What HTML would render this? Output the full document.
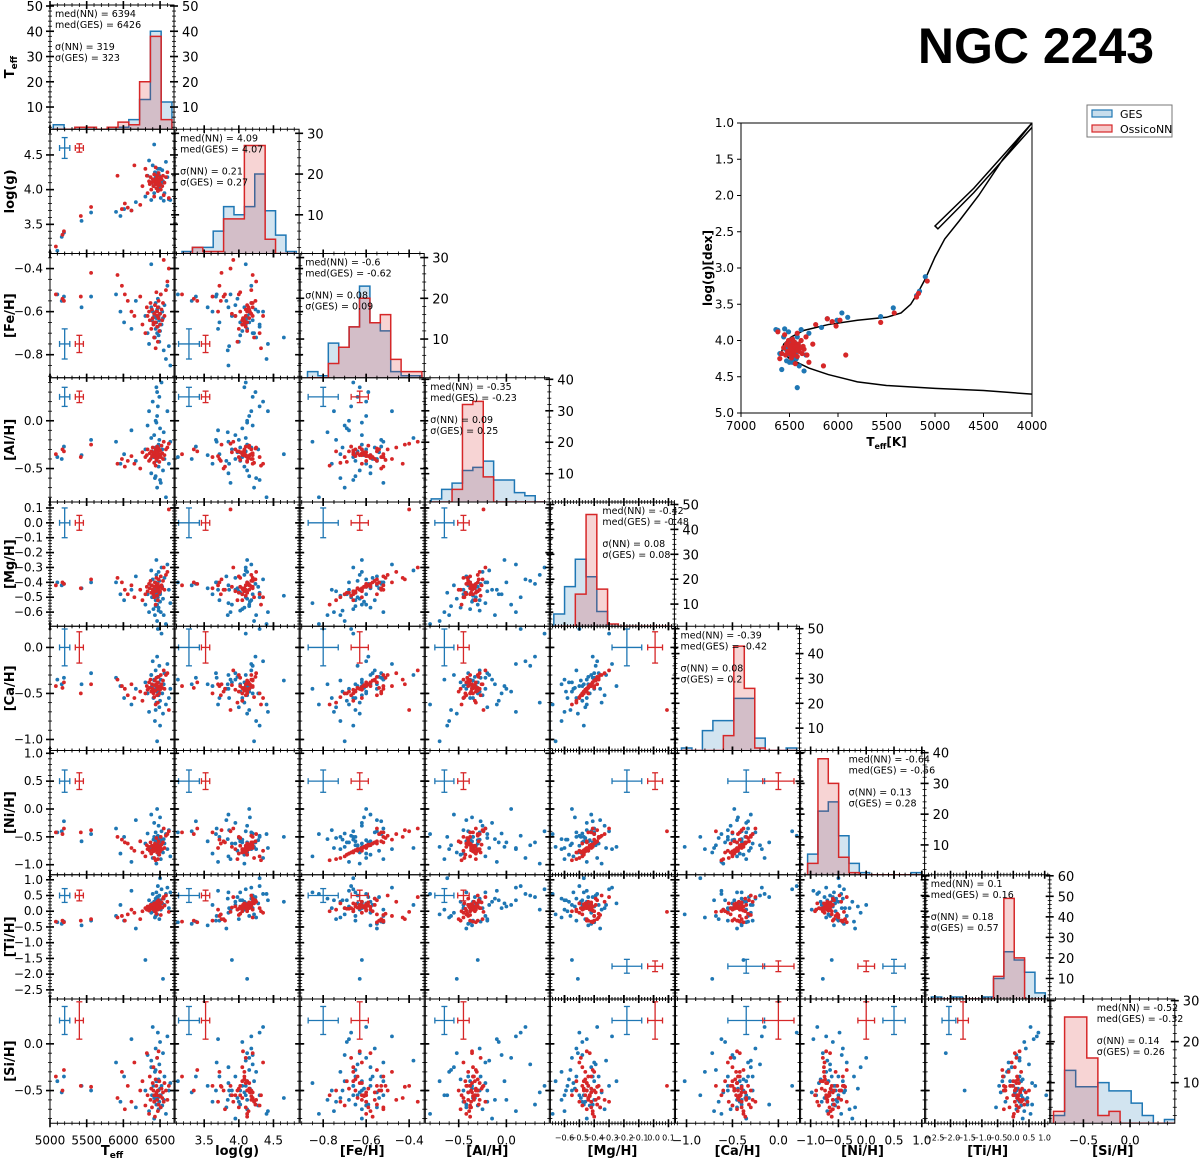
<!DOCTYPE html>
<html><head><meta charset="utf-8"><style>
html,body{margin:0;padding:0;background:#fff;}
svg{display:block;font-family:"DejaVu Sans","Liberation Sans",sans-serif;}
</style></head><body>
<svg id="fig" xmlns="http://www.w3.org/2000/svg" width="1200" height="1162" viewBox="0 0 1200 1162">
<text x="1036" y="63" text-anchor="middle" font-size="50" font-weight="bold" font-family="Liberation Sans, sans-serif">NGC 2243</text>
</svg>
<script>
// ---------- axis limits / labels ----------
const paramNames = ['Teff','log(g)','[Fe/H]','[Al/H]','[Mg/H]','[Ca/H]','[Ni/H]','[Ti/H]','[Si/H]'];
const pMin = [5000,3.08,-0.907,-0.85,-0.695,-1.12,-1.18,-2.79,-0.85];
const pMax = [6690,4.87,-0.33,0.45,0.14,0.23,1.05,1.16,0.48];
const majorStep = [500,0.5,0.2,0.5,0.1,0.5,0.5,0.5,0.5];
const minorStep = [100,0.1,0.05,0.1,0.02,0.1,0.1,0.1,0.1];
const tickDecimals = [0,1,1,1,1,1,1,1,1];
const xTickFont = [12,12,12,12,8,12,12,8,12];

// ---------- GES stars ----------
const gesTeff = [5100,5160,5190,5430,5560,5900,5960,6010,6110,6170,6300,6330,6350,6380,6390,6400,6410,6420,6430,6440,6440,6450,6450,6460,6460,6470,6470,6480,6480,6490,6490,6500,6500,6510,6520,6530,6540,6550,6560,6580,6600,6620,6640,6420,6440,6460,6380,6480,6500,6450];
const gesLogg = [3.12,3.32,3.38,3.55,3.67,3.68,3.62,3.72,3.70,3.82,3.90,4.20,4.42,3.85,4.10,4.35,4.05,3.95,4.25,4.12,4.18,4.08,4.02,4.15,4.22,3.98,4.30,4.12,4.08,4.00,4.20,4.16,4.05,3.88,4.10,4.28,4.12,3.84,3.95,4.40,4.18,3.86,3.85,4.65,4.15,4.24,4.10,4.02,4.30,4.12];
const gesFe = [-0.52,-0.55,-0.53,-0.58,-0.53,-0.52,-0.60,-0.65,-0.68,-0.55,-0.62,-0.70,-0.75,-0.58,-0.64,-0.60,-0.66,-0.62,-0.72,-0.68,-0.56,-0.63,-0.65,-0.60,-0.70,-0.54,-0.67,-0.62,-0.58,-0.74,-0.64,-0.61,-0.69,-0.52,-0.66,-0.60,-0.63,-0.78,-0.57,-0.82,-0.48,-0.76,-0.85,-0.72,-0.65,-0.59,-0.38,-0.71,-0.66,-0.62];
const gesAl = [-0.38,-0.40,-0.27,-0.36,-0.20,-0.22,-0.45,-0.35,-0.10,-0.42,-0.30,-0.05,0.10,-0.55,-0.32,0.20,-0.38,-0.15,-0.60,0.00,-0.28,0.35,-0.42,0.05,-0.70,-0.33,0.15,-0.25,-0.48,-0.20,0.25,-0.36,-0.08,-0.65,0.40,-0.30,-0.52,-0.12,-0.40,-0.80,0.10,-0.45,-0.22,-0.35,-0.58,0.30,-0.18,-0.28,-0.62,-0.02];
const gesMg = [-0.40,-0.42,-0.41,-0.44,-0.40,-0.40,-0.48,-0.52,-0.45,-0.36,-0.55,-0.48,-0.60,-0.42,-0.50,-0.38,-0.58,-0.45,-0.62,-0.40,-0.52,-0.35,-0.47,-0.55,-0.66,-0.44,-0.50,-0.33,-0.57,-0.46,-0.39,-0.53,-0.48,-0.60,-0.30,-0.43,-0.51,-0.62,-0.37,-0.68,-0.28,-0.45,-0.54,-0.49,-0.56,-0.41,-0.32,-0.59,-0.47,-0.25];
const gesCa = [-0.35,-0.40,-0.33,-0.40,-0.28,-0.33,-0.42,-0.55,-0.62,-0.45,-0.38,-0.50,-0.70,-0.30,-0.42,-0.15,-0.55,-0.35,-0.80,-0.45,-0.25,-0.60,-0.40,-0.48,-1.02,-0.32,0.20,-0.52,-0.38,-0.65,-0.20,-0.44,-0.58,-0.35,0.15,-0.50,-0.72,-0.40,-0.28,-0.62,-0.18,-0.55,-0.45,-0.36,-0.68,-0.10,-0.30,-0.48,-0.85,-0.42];
const gesNi = [-0.42,-0.40,-0.22,-0.58,-0.45,-0.35,-0.80,-0.50,-0.95,-0.20,-0.62,-0.44,-0.70,-0.10,-0.66,-0.88,-0.55,-0.25,-0.72,-0.60,-0.42,-0.98,-0.58,0.00,-0.68,-0.75,-0.48,-0.30,-0.82,-0.52,-0.65,-0.15,-0.60,-0.90,-0.40,-0.56,-0.78,-0.54,-0.62,-0.45,-0.72,-0.38,-0.85,-0.50,-0.65,-0.60,-0.70,-0.55,-0.50,-0.68];
const gesTi = [-0.35,-0.40,-0.33,-0.45,-0.30,-0.15,0.20,-0.30,0.65,-0.55,-1.55,0.10,0.35,-0.05,0.25,0.55,0.00,0.30,-0.20,0.15,0.40,0.05,0.60,0.20,-0.10,0.45,0.80,0.10,0.30,-0.25,0.50,0.15,0.35,0.05,0.70,0.25,-2.15,0.40,0.20,0.55,0.75,0.10,0.60,0.30,-0.15,0.45,0.20,0.35,1.05,0.25];
const gesSi = [-0.40,-0.52,-0.35,-0.45,-0.50,-0.20,-0.62,-0.35,0.05,-0.68,-0.50,-0.12,-0.72,-0.25,-0.55,0.18,-0.45,-0.80,-0.30,-0.60,-0.05,-0.52,-0.65,-0.15,-0.40,-0.58,0.12,-0.70,-0.38,-0.62,-0.22,-0.48,0.02,-0.55,-0.45,-0.66,-0.10,-0.60,-0.35,-0.75,0.08,-0.50,-0.42,-0.58,-0.28,-0.65,-0.18,-0.50,-0.55,-0.40];

// ---------- OssicoNN stars ----------
const nnTeff = [5080,5170,5190,5420,5560,5920,5980,6020,6060,6110,6150,6230,6260,6300,6320,6330,6350,6360,6370,6380,6390,6400,6410,6420,6420,6430,6440,6450,6450,6460,6460,6470,6470,6480,6480,6490,6500,6500,6510,6520,6530,6540,6550,6560,6580,6600,6620,6440,6460,6410];
const nnLogg = [3.18,3.35,3.40,3.62,3.75,4.20,3.72,3.80,3.74,3.70,4.35,3.78,4.05,4.30,4.20,3.95,4.12,4.08,4.18,4.00,4.10,4.15,4.05,4.22,3.90,4.12,4.08,4.16,4.02,4.10,4.20,4.14,3.98,4.06,4.24,4.12,4.18,4.08,4.00,4.15,4.05,4.20,3.92,4.10,4.18,4.25,3.88,4.32,4.02,4.12];
const nnFe = [-0.52,-0.54,-0.55,-0.53,-0.42,-0.43,-0.48,-0.52,-0.55,-0.60,-0.62,-0.53,-0.66,-0.70,-0.58,-0.62,-0.60,-0.64,-0.56,-0.68,-0.59,-0.63,-0.66,-0.72,-0.61,-0.57,-0.65,-0.60,-0.51,-0.67,-0.62,-0.58,-0.74,-0.63,-0.55,-0.69,-0.61,-0.66,-0.52,-0.59,-0.64,-0.56,-0.36,-0.62,-0.50,-0.46,-0.40,-0.77,-0.60,-0.65];
const nnAl = [-0.35,-0.30,-0.32,-0.38,-0.25,-0.45,-0.40,-0.48,-0.42,-0.37,-0.45,-0.50,-0.33,-0.38,-0.36,-0.30,-0.42,-0.34,-0.40,-0.32,-0.37,-0.28,-0.35,-0.44,-0.33,-0.38,-0.30,-0.36,-0.41,-0.27,-0.34,-0.39,-0.32,-0.36,-0.29,-0.43,-0.35,-0.31,-0.38,-0.26,-0.34,-0.40,-0.22,-0.36,-0.30,-0.28,-0.24,-0.47,-0.33,-0.37];
const nnMg = [-0.42,-0.40,-0.41,-0.44,-0.38,-0.37,-0.40,-0.45,-0.48,-0.42,-0.50,-0.45,-0.52,-0.48,-0.43,-0.46,-0.41,-0.44,-0.39,-0.47,-0.42,-0.45,-0.48,-0.50,-0.43,-0.40,-0.46,-0.42,-0.37,-0.49,-0.44,-0.41,-0.52,-0.45,-0.38,-0.47,-0.43,-0.46,-0.36,-0.42,-0.44,-0.39,-0.30,-0.45,-0.35,-0.33,0.09,-0.55,-0.43,-0.47];
const nnCa = [-0.42,-0.44,-0.38,-0.50,-0.40,-0.35,-0.42,-0.45,-0.52,-0.40,-0.55,-0.48,-0.58,-0.50,-0.42,-0.46,-0.38,-0.44,-0.35,-0.48,-0.40,-0.45,-0.50,-0.54,-0.41,-0.36,-0.47,-0.40,-0.33,-0.52,-0.43,-0.38,-0.60,-0.45,-0.32,-0.50,-0.42,-0.46,-0.30,-0.40,-0.44,-0.36,-0.25,-0.45,-0.30,-0.28,-0.68,-0.62,-0.42,-0.48];
const nnNi = [-0.42,-0.45,-0.35,-0.42,-0.38,-0.50,-0.55,-0.60,-0.62,-0.70,-0.75,-0.58,-0.78,-0.85,-0.65,-0.72,-0.68,-0.75,-0.60,-0.80,-0.66,-0.72,-0.76,-0.88,-0.68,-0.62,-0.74,-0.66,-0.52,-0.78,-0.70,-0.64,-0.90,-0.72,-0.58,-0.82,-0.68,-0.76,-0.50,-0.64,-0.72,-0.60,-0.35,-0.70,-0.48,-0.45,-0.40,-0.92,-0.66,-0.74];
const nnTi = [-0.33,-0.30,-0.35,-0.30,-0.25,-0.20,-0.15,-0.30,-0.10,0.05,-0.05,-0.25,0.00,0.10,0.05,0.15,0.02,0.12,0.20,0.08,0.18,0.10,0.05,0.25,0.12,0.00,0.15,0.22,-0.08,0.10,0.30,0.14,0.05,0.20,0.35,0.08,0.16,0.25,-0.12,0.28,0.12,0.40,0.45,0.18,0.50,0.30,-0.02,0.00,0.15,0.22];
const nnSi = [-0.35,-0.50,-0.28,-0.45,-0.46,-0.58,-0.30,-0.70,-0.45,-0.62,-0.20,-0.50,-0.40,-0.66,-0.10,-0.55,-0.75,-0.35,-0.60,-0.48,-0.68,-0.42,-0.25,-0.62,-0.55,-0.78,-0.38,-0.52,-0.45,-0.15,-0.60,-0.72,-0.50,-0.08,-0.65,-0.40,-0.56,-0.30,-0.68,-0.48,-0.58,-0.52,-0.62,-0.42,-0.50,-0.60,-0.45,-0.55,-0.55,-0.50];

// ---------- histograms ----------
const histStart = [5045,3.18,-0.873,-0.7875,-0.672,-1.055,-1.054,-2.61,-0.821];
const histWidth = [147,0.15,0.0484,0.109,0.0724,0.114,0.186,0.33,0.119];
const histGES = [
 [3,0,2,1,0,2,2,5,13,40,12],
 [1,2,2,6,12,10,12,20,11,5,1],
 [2,1,9,8,13,23,14,12,2,1,1],
 [2,5,7,11,12,14,8,8,4,3,1],
 [6,17,28,21,7,1,0,0,0,0,0],
 [2,0,9,13,13,22,22,6,1,0,2],
 [7,21,24,13,4,1,0,0,0,0,1],
 [1,0,1,0,0,1,10,23,19,13,3],
 [2,13,9,9,10,8,8,5,2,0,1]];
const histNN = [
 [0,0,2,2,0,2,4,3,20,38,5],
 [0,2,1,1,9,9,27,27,4,0,0],
 [0,0,4,8,13,20,14,16,5,2,2],
 [0,1,5,32,33,9,1,1,1,0,0],
 [1,0,14,46,16,2,0,0,0,0,1],
 [0,0,0,1,7,43,26,2,0,0,0],
 [4,38,30,6,1,0,0,0,0,0,0],
 [0,0,0,0,0,0,11,49,20,0,0],
 [3,26,26,16,2,3,0,0,0,0,0]];
const histYMin = [1.2,0.5,0.5,1,1.1,1,0.3,0,0.1];
const histYMax = [50.4,31,31,40.5,51,51,40.7,60.5,30.4];
const medNN = ['6394','4.09','-0.6','-0.35','-0.42','-0.39','-0.64','0.1','-0.52'];
const medGES = ['6426','4.07','-0.62','-0.23','-0.48','-0.42','-0.56','0.16','-0.32'];
const sigNN = ['319','0.21','0.08','0.09','0.08','0.08','0.13','0.18','0.14'];
const sigGES = ['323','0.27','0.09','0.25','0.08','0.2','0.28','0.57','0.26'];
const statsOffset = [5,5,5,5,52,5,48,5,46];

// ---------- typical errors ----------
const errGES = [70,0.15,0.07,0.1,0.1,0.2,0.2,0.22,0.15];
const errNN = [55,0.06,0.04,0.06,0.05,0.17,0.15,0.17,0.2];
const errXBlue = [5200,3.28,-0.8,-0.65,-0.18,-0.35,0.5,-2.05];
const errXRed = [5400,3.52,-0.63,-0.45,0.01,0.0,0.0,-1.6];
const errYRow = [0,4.6,-0.75,0.25,0.0,0.0,0.5,0.5,0.25];
const errYTiAlt = -1.75;

// ---------- isochrone for HR diagram ----------
const isoTeff = [4000,4500,5000,5500,5800,6100,6300,6500,6580,6560,6480,6350,6100,5800,5500,5350,5250,5180,5100,5000,4900,4750,4550,4300,4000,4600,5000,4970,4600,4000];
const isoLogg = [4.74,4.69,4.66,4.62,4.57,4.47,4.38,4.25,4.15,4.05,3.95,3.86,3.78,3.72,3.68,3.62,3.5,3.35,3.15,2.85,2.6,2.35,2.0,1.5,1.0,1.9,2.42,2.46,1.96,1.06];

const ges = [gesTeff,gesLogg,gesFe,gesAl,gesMg,gesCa,gesNi,gesTi,gesSi];
const nn = [nnTeff,nnLogg,nnFe,nnAl,nnMg,nnCa,nnNi,nnTi,nnSi];

const SVGNS = 'http://www.w3.org/2000/svg';
const svg = document.getElementById('fig');
const BLUE = '#1f77b4', RED = '#d62728';
function mk(tag, attrs, parent) {
  const e = document.createElementNS(SVGNS, tag);
  for (const k in attrs) e.setAttribute(k, attrs[k]);
  (parent || svg).appendChild(e);
  return e;
}
const X0 = 50, CW = 125.1, Y0 = 5, RH = 124.25, PW = 124, PH = 124.25;
function colL(i) { return X0 + i * CW; }
function rowT(j) { return Y0 + j * RH; }
function sx(p, v, i) { return colL(i) + (v - pMin[p]) / (pMax[p] - pMin[p]) * PW; }
function sy(p, v, j) { return rowT(j) + PH - (v - pMin[p]) / (pMax[p] - pMin[p]) * PH; }
function fmt(v, d) { const s = v.toFixed(d); return (Math.abs(v) < 1e-9 ? (0).toFixed(d) : s).replace('-', '\u2212'); }
function ticksFor(lo, hi, step) { const out = []; const s = Math.ceil(lo / step - 1e-9); for (let k = s; k * step <= hi + 1e-9; k++) out.push(+(k * step).toFixed(6)); return out; }

function xTicks(p, i, j, withLabels) {
  const g = mk('g', {});
  
  
  const top = rowT(j), bot = rowT(j) + PH;
  ticksFor(pMin[p], pMax[p], minorStep[p]).forEach(v => {
    const x = sx(p, v, i);
    mk('line', {x1: x, x2: x, y1: bot - 2, y2: bot + 2, stroke: '#000', 'stroke-width': 0.8}, g);
    mk('line', {x1: x, x2: x, y1: top - 2, y2: top + 2, stroke: '#000', 'stroke-width': 0.8}, g);
  });
  ticksFor(pMin[p], pMax[p], majorStep[p]).forEach(v => {
    const x = sx(p, v, i);
    mk('line', {x1: x, x2: x, y1: bot - 4, y2: bot + 4, stroke: '#000', 'stroke-width': 1.6}, g);
    mk('line', {x1: x, x2: x, y1: top - 4, y2: top + 4, stroke: '#000', 'stroke-width': 1.6}, g);
    if (withLabels) {
      const t = mk('text', {x: x, y: bot + 9 + xTickFont[p], 'text-anchor': 'middle', 'font-size': xTickFont[p]}, g);
      t.textContent = fmt(v, tickDecimals[p]);
      
      
    }
  });
}
function yTicks(p, i, j, withLabels) {
  const g = mk('g', {});
  
  
  const l = colL(i), r = colL(i) + PW;
  ticksFor(pMin[p], pMax[p], minorStep[p]).forEach(v => {
    const y = sy(p, v, j);
    mk('line', {x1: l - 2, x2: l + 2, y1: y, y2: y, stroke: '#000', 'stroke-width': 0.8}, g);
    mk('line', {x1: r - 2, x2: r + 2, y1: y, y2: y, stroke: '#000', 'stroke-width': 0.8}, g);
  });
  ticksFor(pMin[p], pMax[p], majorStep[p]).forEach(v => {
    const y = sy(p, v, j);
    mk('line', {x1: l - 4, x2: l + 4, y1: y, y2: y, stroke: '#000', 'stroke-width': 1.6}, g);
    mk('line', {x1: r - 4, x2: r + 4, y1: y, y2: y, stroke: '#000', 'stroke-width': 1.6}, g);
    if (withLabels) {
      const t = mk('text', {x: l - 7, y: y + 4, 'text-anchor': 'end', 'font-size': 12}, g);
      t.textContent = fmt(v, tickDecimals[p]);
      
      
    }
  });
}
function errCross(cx, cy, ex, ey, color, g) {
  mk('line', {x1: cx - ex, x2: cx + ex, y1: cy, y2: cy, stroke: color, 'stroke-width': 1.3}, g);
  mk('line', {x1: cx, x2: cx, y1: cy - ey, y2: cy + ey, stroke: color, 'stroke-width': 1.3}, g);
  mk('line', {x1: cx - ex, x2: cx - ex, y1: cy - 3, y2: cy + 3, stroke: color, 'stroke-width': 1.3}, g);
  mk('line', {x1: cx + ex, x2: cx + ex, y1: cy - 3, y2: cy + 3, stroke: color, 'stroke-width': 1.3}, g);
  mk('line', {x1: cx - 3, x2: cx + 3, y1: cy - ey, y2: cy - ey, stroke: color, 'stroke-width': 1.3}, g);
  mk('line', {x1: cx - 3, x2: cx + 3, y1: cy + ey, y2: cy + ey, stroke: color, 'stroke-width': 1.3}, g);
}

// ---------- scatter panels ----------
for (let j = 1; j < 9; j++) {
  for (let i = 0; i < j; i++) {
    const g = mk('g', {});
    
    
    const clipId = 'c' + i + '_' + j;
    const cp = mk('clipPath', {id: clipId}, g);
    mk('rect', {x: colL(i), y: rowT(j), width: PW, height: PH}, cp);
    const pts = mk('g', {'clip-path': 'url(#' + clipId + ')'}, g);
    [[ges, BLUE, 'ges'], [nn, RED, 'nn']].forEach(([src, col, nm]) => {
      const xs = src[i], ys = src[j];
      for (let k = 0; k < xs.length; k++) {
        const c = mk('circle', {cx: sx(i, xs[k], i), cy: sy(j, ys[k], j), r: 1.9, fill: col}, pts);
        
        
      }
    });
    const ey = (j === 7 && i >= 4 && i <= 6) ? errYTiAlt : errYRow[j];
    const eb = mk('g', {}, g);
    
    
    const kx = PW / (pMax[i] - pMin[i]), ky = PH / (pMax[j] - pMin[j]);
    errCross(sx(i, errXBlue[i], i), sy(j, ey, j), errGES[i] * kx, errGES[j] * ky, BLUE, eb);
    errCross(sx(i, errXRed[i], i), sy(j, ey, j), errNN[i] * kx, errNN[j] * ky, RED, eb);
    const fr = mk('rect', {x: colL(i), y: rowT(j), width: PW, height: PH, fill: 'none', stroke: '#000', 'stroke-width': 1}, g);
    
    
    xTicks(i, i, j, j === 8);
    yTicks(j, i, j, i === 0);
  }
}

// ---------- diagonal histograms ----------
for (let p = 0; p < 9; p++) {
  const g = mk('g', {});
  
  
  const l = colL(p), t = rowT(p), b = t + PH, r = l + PW;
  const hy = v => b - (Math.max(v, histYMin[p]) - histYMin[p]) / (histYMax[p] - histYMin[p]) * PH;
  const clipId = 'h' + p;
  const cp = mk('clipPath', {id: clipId}, g);
  mk('rect', {x: l, y: t, width: PW, height: PH}, cp);
  const hg = mk('g', {'clip-path': 'url(#' + clipId + ')'}, g);
  [[histGES[p], BLUE, 'rgba(31,119,180,0.2)', 'ges'], [histNN[p], RED, 'rgba(214,39,40,0.2)', 'nn']].forEach(([cnt, col, fill, nm]) => {
    let d = '';
    const x0 = sx(p, histStart[p], p);
    d += 'M' + x0 + ',' + b;
    for (let k = 0; k < cnt.length; k++) {
      const xa = sx(p, histStart[p] + k * histWidth[p], p), xb = sx(p, histStart[p] + (k + 1) * histWidth[p], p);
      d += 'L' + xa + ',' + hy(cnt[k]) + 'L' + xb + ',' + hy(cnt[k]);
    }
    d += 'L' + sx(p, histStart[p] + cnt.length * histWidth[p], p) + ',' + b;
    const f = mk('path', {d: d + 'Z', fill: fill, stroke: 'none'}, hg);
    
    
    const s = mk('path', {d: d, fill: 'none', stroke: col, 'stroke-width': 1.5}, hg);
    
    
  });
  const fr = mk('rect', {x: l, y: t, width: PW, height: PH, fill: 'none', stroke: '#000', 'stroke-width': 1}, g);
  
  
  xTicks(p, p, p, p === 8);
  const cg = mk('g', {}, g);
  
  
  for (let v = 2; v <= histYMax[p]; v += 2) {
    const y = hy(v);
    const major = v % 10 === 0;
    const len = major ? 4 : 2;
    mk('line', {x1: r - len, x2: r + len, y1: y, y2: y, stroke: '#000', 'stroke-width': major ? 1.6 : 0.8}, cg);
    mk('line', {x1: l - len, x2: l + len, y1: y, y2: y, stroke: '#000', 'stroke-width': major ? 1.6 : 0.8}, cg);
    if (major) {
      const tx = mk('text', {x: r + 8, y: y + 5, 'font-size': 13}, cg);
      tx.textContent = String(v);
      
      
      if (p === 0) {
        const tl = mk('text', {x: l - 7, y: y + 5, 'font-size': 13, 'text-anchor': 'end'}, cg);
        tl.textContent = String(v);
        
        
      }
    }
  }
  const st = mk('g', {'font-size': 9.5}, g);
  
  
  const lines = ['med(NN) = ' + medNN[p], 'med(GES) = ' + medGES[p], '', '\u03c3(NN) = ' + sigNN[p], '\u03c3(GES) = ' + sigGES[p]];
  lines.forEach((s, k) => { if (!s) return; const tx = mk('text', {x: l + statsOffset[p], y: t + 12 + k * 11}, st); tx.textContent = s; });
}

// ---------- axis titles ----------
function bigLabel(txt, sub, x, y, rot, name) {
  const t = mk('text', {x: x, y: y, 'text-anchor': 'middle', 'font-size': 13, 'font-weight': 'bold', transform: rot ? 'rotate(-90 ' + x + ' ' + y + ')' : ''});
  t.textContent = txt;
  if (sub) { const ts = mk('tspan', {'font-size': 9, dy: 3}, t); ts.textContent = sub; }
  
  
}
for (let p = 0; p < 9; p++) {
  const isT = p === 0;
  bigLabel(isT ? 'T' : paramNames[p], isT ? 'eff' : '', colL(p) + PW / 2, 1155, false, 'x-axis-title');
  bigLabel(isT ? 'T' : paramNames[p], isT ? 'eff' : '', 14, rowT(p) + PH / 2, true, 'y-axis-title');
}

// ---------- HR diagram ----------
(function () {
  const L = 741, R = 1032, T = 123, B = 413;
  const tMin = 4000, tMax = 7000, gMin = 1.0, gMax = 5.0;
  const hx = v => L + (tMax - v) / (tMax - tMin) * (R - L);
  const hyy = v => T + (v - gMin) / (gMax - gMin) * (B - T);
  const g = mk('g', {});
  
  
  let d = '';
  isoTeff.forEach((v, k) => { d += (k ? 'L' : 'M') + hx(v) + ',' + hyy(isoLogg[k]); });
  const iso = mk('path', {d: d, fill: 'none', stroke: '#000', 'stroke-width': 1.5}, g);
  
  
  [[ges, BLUE, 'ges'], [nn, RED, 'nn']].forEach(([src, col, nm]) => {
    for (let k = 0; k < src[0].length; k++) {
      const c = mk('circle', {cx: hx(src[0][k]), cy: hyy(src[1][k]), r: 2.6, fill: col}, g);
      
      
    }
  });
  const fr = mk('rect', {x: L, y: T, width: R - L, height: B - T, fill: 'none', stroke: '#000', 'stroke-width': 1}, g);
  
  
  for (let v = 4000; v <= 7000; v += 500) {
    const x = hx(v);
    mk('line', {x1: x, x2: x, y1: B, y2: B + 4, stroke: '#000'}, g);
    const t = mk('text', {x: x, y: B + 17, 'text-anchor': 'middle', 'font-size': 12}, g);
    t.textContent = String(v);
    
    
  }
  for (let v = 1.0; v <= 5.0001; v += 0.5) {
    const y = hyy(v);
    mk('line', {x1: L - 4, x2: L, y1: y, y2: y, stroke: '#000'}, g);
    const t = mk('text', {x: L - 7, y: y + 4, 'text-anchor': 'end', 'font-size': 12}, g);
    t.textContent = v.toFixed(1);
    
    
  }
  const xl = mk('text', {x: (L + R) / 2, y: B + 33, 'text-anchor': 'middle', 'font-size': 12, 'font-weight': 'bold'}, g);
  xl.textContent = 'T';
  const xs1 = mk('tspan', {'font-size': 8, dy: 3}, xl); xs1.textContent = 'eff';
  const xs2 = mk('tspan', {dy: -3}, xl); xs2.textContent = '[K]';
  
  
  const yl = mk('text', {x: 712, y: (T + B) / 2, 'text-anchor': 'middle', 'font-size': 12, 'font-weight': 'bold', transform: 'rotate(-90 712 ' + (T + B) / 2 + ')'}, g);
  yl.textContent = 'log(g)[dex]';
  
  
  const lg = mk('g', {});
  
  
  mk('rect', {x: 1087, y: 105, width: 85, height: 32, fill: '#fff', stroke: '#777', 'stroke-width': 1}, lg);
  const e1 = mk('rect', {x: 1092, y: 110, width: 20, height: 7, fill: 'rgba(31,119,180,0.25)', stroke: BLUE, 'stroke-width': 1.2}, lg);
  
  
  const t1 = mk('text', {x: 1120, y: 118, 'font-size': 11}, lg); t1.textContent = 'GES';
  
  
  const e2 = mk('rect', {x: 1092, y: 125, width: 20, height: 7, fill: 'rgba(214,39,40,0.25)', stroke: RED, 'stroke-width': 1.2}, lg);
  
  
  const t2 = mk('text', {x: 1120, y: 133, 'font-size': 11}, lg); t2.textContent = 'OssicoNN';
  
  
})();
</script>
</body></html>
